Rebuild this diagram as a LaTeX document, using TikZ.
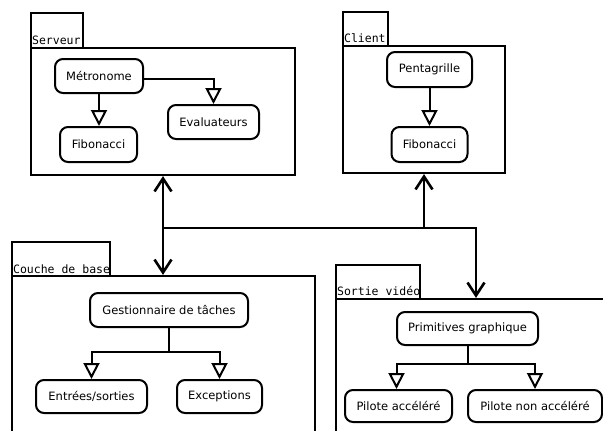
\documentclass[tikz,border=0pt]{standalone}
\usepackage{fontspec}
\setmainfont{DejaVu Sans}
\newfontfamily\tabfont{DejaVu Sans Mono}
\usetikzlibrary{arrows.meta}
\begin{document}
\begin{tikzpicture}[x=1pt,y=-1pt,
  cls/.style={draw, line width=2pt, rounded corners=8pt, fill=white, inner sep=0pt,
    font=\fontsize{11.5}{13}\selectfont},
  pkg/.style={draw, line width=2.2pt, inner sep=0pt},
  tabtext/.style={font=\tabfont\fontsize{11.5}{13}\selectfont, inner sep=0pt, anchor=base west},
  inh/.style={line width=2pt, -{Triangle[open, length=16pt, width=16pt, line width=2pt]}},
  dep/.style={line width=2.6pt, line cap=square, -{Straight Barb[length=13pt, width=17pt, line width=2.6pt]}}]
\useasboundingbox (0,0) rectangle (603,431);
\fill[white] (0,0) rectangle (603,431);
\clip (0,0) rectangle (603,431);

% packages
\node[pkg, minimum width=264pt, minimum height=127pt] (serveur) at (163,111.5) {};
\node[pkg, minimum width=52pt, minimum height=35pt] (serveurTab) at (57,30.5) {};
\node[pkg, minimum width=162pt, minimum height=127pt] (client) at (424,109.5) {};
\node[pkg, minimum width=45pt, minimum height=34pt] (clientTab) at (365.5,29) {};
\node[pkg, minimum width=303pt, minimum height=184pt] (couche) at (163.5,368) {};
\node[pkg, minimum width=98pt, minimum height=34pt] (coucheTab) at (61,259) {};
\node[pkg, minimum width=304pt, minimum height=161pt] (sortie) at (488,379.5) {};
\node[pkg, minimum width=84pt, minimum height=34pt] (sortieTab) at (378,282) {};

\begin{scope}
\clip (serveurTab.south west) rectangle (serveurTab.north east);
\node[tabtext] (tServeur) at ([xshift=2pt,yshift=5pt]serveurTab.south west) {Serveur};
\end{scope}
\begin{scope}
\clip (clientTab.south west) rectangle (clientTab.north east);
\node[tabtext] (tClient) at ([xshift=2pt,yshift=5pt]clientTab.south west) {Client};
\end{scope}
\begin{scope}
\clip (coucheTab.south west) rectangle (coucheTab.north east);
\node[tabtext] (tCouche) at ([xshift=2pt,yshift=4pt]coucheTab.south west) {Couche de base};
\end{scope}
\begin{scope}
\clip (sortieTab.south west) rectangle (sortieTab.north east);
\node[tabtext] (tSortie) at ([xshift=2pt,yshift=5pt]sortieTab.south west) {Sortie vidéo};
\end{scope}

% classes
\node[cls, minimum width=88pt, minimum height=34pt] (met) at (99,76) {Métronome};
\node[cls, minimum width=77pt, minimum height=35pt] (fibs) at (98.5,144.5) {Fibonacci};
\node[cls, minimum width=91pt, minimum height=34pt] (eval) at (213.5,122) {Evaluateurs};
\node[cls, minimum width=85pt, minimum height=35pt] (pent) at (429.5,69.5) {Pentagrille};
\node[cls, minimum width=76pt, minimum height=35pt] (fibc) at (429.5,144.5) {Fibonacci};
\node[cls, minimum width=158pt, minimum height=34pt] (gest) at (169,310) {Gestionnaire de tâches};
\node[cls, minimum width=111pt, minimum height=33pt] (ent) at (91.5,396.5) {Entrées/sorties};
\node[cls, minimum width=85pt, minimum height=33pt] (exc) at (219.5,396.5) {Exceptions};
\node[cls, minimum width=141pt, minimum height=33pt] (prim) at (467.5,328.5) {Primitives graphique};
\node[cls, minimum width=107pt, minimum height=32pt] (pacc) at (398.5,406) {Pilote accéléré};
\node[cls, minimum width=134pt, minimum height=32pt] (pnon) at (535,406) {Pilote non accéléré};

% inheritance connectors
\draw[inh] (met.south) -- (met.south |- fibs.north);
\draw[inh] ([yshift=-3pt]met.east) -| (eval.north);
\draw[inh] (pent.south) -- (fibc.north);
\draw[inh] (gest.south) -- ++(0,24) -| (ent.north);
\draw[inh] (gest.south) -- ++(0,24) -| (exc.north);
\draw[inh] (prim.south) -- ++(0,18) -| ([xshift=-2pt]pacc.north);
\draw[inh] (prim.south) -- ++(0,18) -| (pnon.north);

% dependency connectors
\coordinate (hub) at (163,228);
\coordinate (corner) at (476,228);
\coordinate (cj) at (424,228);
\draw[dep] (hub) -- (hub |- serveur.south);
\draw[dep] (hub) -- (hub |- couche.north);
\draw[dep] (hub) -- (corner) -- (corner |- sortie.north);
\draw[dep] (cj) -- (cj |- client.south);
\end{tikzpicture}
\end{document}
